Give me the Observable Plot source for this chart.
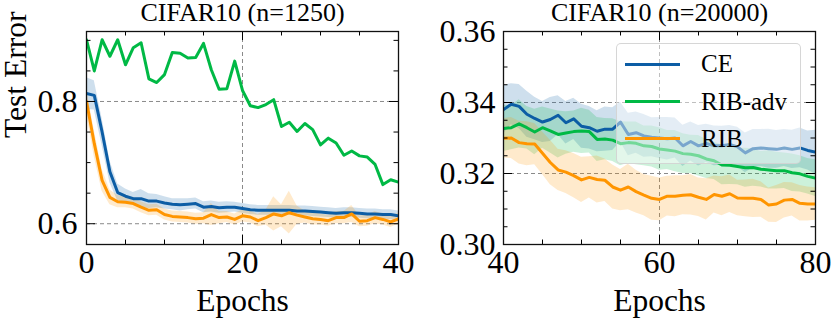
<!DOCTYPE html>
<html><head><meta charset="utf-8">
<script src="https://cdn.jsdelivr.net/npm/d3@7"></script>
<script src="https://cdn.jsdelivr.net/npm/@observablehq/plot@0.6"></script>
<style>
html,body{margin:0;padding:0;background:#fff;}
#wrap{position:relative;width:831px;height:318px;overflow:hidden;font-family:"Liberation Serif","Times New Roman",serif;}
#wrap svg{position:absolute;top:0;overflow:visible;font-family:"Liberation Serif","Times New Roman",serif !important;}
#wrap svg text{font-family:"Liberation Serif","Times New Roman",serif !important;}
.legend{position:absolute;box-sizing:border-box;background:rgba(255,255,255,0.45);border:1.5px solid rgba(210,210,210,0.9);border-radius:5px;}
.legend .sw{position:absolute;left:8px;width:55px;height:3px;}
.legend .lb{position:absolute;left:84px;font-size:25px;line-height:25px;color:#000;white-space:nowrap;}
</style></head><body><div id="wrap"></div>
<script>
// ---- data ----
const epochsLeft = [0,1,2,3,4,5,6,7,8,9,10,11,12,13,14,15,16,17,18,19,20,21,22,23,24,25,26,27,28,29,30,31,32,33,34,35,36,37,38,39,40];
const epochsRight = [40,41,42,43,44,45,46,47,48,49,50,51,52,53,54,55,56,57,58,59,60,61,62,63,64,65,66,67,68,69,70,71,72,73,74,75,76,77,78,79,80];

const leftCE = [0.813,0.810,0.750,0.685,0.651,0.645,0.641,0.641,0.637,0.637,0.634,0.632,0.631,0.632,0.633,0.627,0.628,0.626,0.627,0.627,0.625,0.623,0.622,0.622,0.622,0.622,0.622,0.621,0.621,0.620,0.619,0.618,0.617,0.618,0.618,0.617,0.616,0.616,0.615,0.615,0.613];
const leftCEstd = [0.026,0.024,0.022,0.018,0.014,0.012,0.010,0.015,0.012,0.011,0.010,0.009,0.010,0.009,0.009,0.009,0.009,0.009,0.009,0.008,0.008,0.008,0.008,0.008,0.008,0.008,0.008,0.008,0.008,0.008,0.008,0.008,0.008,0.008,0.008,0.008,0.008,0.008,0.008,0.008,0.008];
const leftRIB = [0.800,0.731,0.671,0.643,0.636,0.635,0.633,0.627,0.622,0.623,0.615,0.612,0.611,0.610,0.608,0.609,0.615,0.610,0.611,0.607,0.613,0.611,0.605,0.610,0.616,0.613,0.618,0.614,0.611,0.608,0.607,0.605,0.610,0.610,0.616,0.604,0.605,0.610,0.607,0.603,0.608];
const leftRIBstd = [0.020,0.022,0.018,0.012,0.010,0.009,0.009,0.009,0.009,0.009,0.009,0.009,0.009,0.009,0.009,0.009,0.018,0.010,0.009,0.009,0.010,0.010,0.010,0.012,0.028,0.018,0.035,0.015,0.010,0.010,0.009,0.009,0.010,0.010,0.014,0.009,0.009,0.010,0.009,0.009,0.009];
const leftADV = [0.901,0.850,0.901,0.874,0.901,0.860,0.888,0.896,0.837,0.831,0.844,0.880,0.879,0.871,0.872,0.895,0.852,0.820,0.821,0.866,0.818,0.793,0.790,0.795,0.803,0.759,0.766,0.751,0.764,0.754,0.729,0.740,0.732,0.712,0.719,0.711,0.709,0.697,0.664,0.672,0.668];

const rightCE = [0.3380,0.3395,0.3389,0.3367,0.3355,0.3345,0.3352,0.3364,0.3343,0.3354,0.3333,0.3329,0.3319,0.3325,0.3325,0.3345,0.3310,0.3315,0.3306,0.3302,0.3300,0.3298,0.3300,0.3278,0.3290,0.3278,0.3285,0.3278,0.3278,0.3282,0.3275,0.3258,0.3270,0.3272,0.3270,0.3268,0.3272,0.3268,0.3272,0.3265,0.3260];
const rightCEstd = [0.0068,0.0058,0.0062,0.0065,0.0060,0.0058,0.0062,0.0055,0.0060,0.0058,0.0062,0.0060,0.0058,0.0062,0.0060,0.0056,0.0060,0.0058,0.0060,0.0055,0.0058,0.0060,0.0056,0.0058,0.0055,0.0057,0.0054,0.0056,0.0055,0.0053,0.0055,0.0056,0.0054,0.0052,0.0055,0.0053,0.0052,0.0054,0.0056,0.0055,0.0062];
const rightADV = [0.3327,0.3329,0.3340,0.3329,0.3317,0.3329,0.3320,0.3310,0.3314,0.3318,0.3320,0.3318,0.3296,0.3297,0.3294,0.3284,0.3287,0.3285,0.3278,0.3276,0.3269,0.3266,0.3263,0.3256,0.3254,0.3250,0.3241,0.3236,0.3224,0.3223,0.3220,0.3216,0.3217,0.3212,0.3210,0.3208,0.3208,0.3202,0.3199,0.3192,0.3187];
const rightADVstd = [0.0065,0.0062,0.0068,0.0060,0.0064,0.0058,0.0062,0.0066,0.0060,0.0058,0.0064,0.0060,0.0062,0.0058,0.0060,0.0062,0.0058,0.0060,0.0056,0.0058,0.0060,0.0055,0.0058,0.0056,0.0054,0.0057,0.0055,0.0053,0.0056,0.0054,0.0052,0.0055,0.0053,0.0050,0.0054,0.0052,0.0050,0.0053,0.0051,0.0050,0.0052];
const rightRIB = [0.3299,0.3300,0.3287,0.3284,0.3283,0.3257,0.3231,0.3210,0.3204,0.3194,0.3182,0.3189,0.3183,0.3181,0.3162,0.3153,0.3162,0.3149,0.3139,0.3130,0.3127,0.3136,0.3136,0.3139,0.3140,0.3133,0.3127,0.3141,0.3136,0.3143,0.3131,0.3130,0.3130,0.3127,0.3111,0.3114,0.3125,0.3127,0.3116,0.3114,0.3114];
const rightRIBstd = [0.0055,0.0058,0.0060,0.0062,0.0058,0.0060,0.0063,0.0058,0.0060,0.0062,0.0064,0.0058,0.0066,0.0060,0.0062,0.0058,0.0064,0.0060,0.0058,0.0062,0.0060,0.0056,0.0058,0.0055,0.0057,0.0054,0.0058,0.0052,0.0055,0.0053,0.0050,0.0052,0.0054,0.0050,0.0048,0.0052,0.0050,0.0047,0.0050,0.0048,0.0046];

const methods = ["CE","RIB-adv","RIB"];
const colors = {"CE":"#0C5DA5","RIB-adv":"#00B945","RIB":"#FF9500"};

const leftXMajor=[0,20,40], leftXMinor=[5,10,15,25,30,35];
const leftYMajor=[0.6,0.8], leftYMinor=[0.65,0.7,0.75,0.85,0.9];
const rightXMajor=[40,60,80], rightXMinor=[45,50,55,65,70,75];
const rightYMajor=[0.30,0.32,0.34,0.36], rightYMinor=[0.305,0.31,0.315,0.325,0.33,0.335,0.345,0.35,0.355];

const FONT="'Liberation Serif','Times New Roman',serif";

function rows(epochs, vals, stds){
  return epochs.map((e,i)=>({epoch:e, v:vals[i], lo: stds? vals[i]-stds[i]:null, hi: stds? vals[i]+stds[i]:null}));
}

const H=318, MT=31, MB=74;
function panel(o){
  const innerW=o.width-o.marginLeft-o.marginRight, innerH=H-MT-MB;
  const marks=[
    Plot.gridX(o.xMajor.slice(1,-1),{stroke:"#8a8a8a",strokeOpacity:1,strokeWidth:1,strokeDasharray:"4,3"}),
    Plot.gridY(o.yMajor,{stroke:"#8a8a8a",strokeOpacity:1,strokeWidth:1,strokeDasharray:"4,3"})
  ];
  for(const s of o.series){
    const d=rows(o.epochs,s.vals,s.stds);
    if(s.stds) marks.push(Plot.areaY(d,{x:"epoch",y1:"lo",y2:"hi",fill:colors[s.name],fillOpacity:0.2,clip:true}));
  }
  for(const s of o.series){
    const d=rows(o.epochs,s.vals,s.stds);
    marks.push(Plot.lineY(d,{x:"epoch",y:"v",stroke:colors[s.name],strokeWidth:3,clip:true}));
  }
  const maj=9, mn=4.5;
  marks.push(
    Plot.tickX(o.xMajor,{x:d=>d,insetTop:innerH-maj,stroke:"black",strokeWidth:1}),
    Plot.tickX(o.xMajor,{x:d=>d,insetBottom:innerH-maj,stroke:"black",strokeWidth:1}),
    Plot.tickX(o.xMinor,{x:d=>d,insetTop:innerH-mn,stroke:"black",strokeWidth:1}),
    Plot.tickX(o.xMinor,{x:d=>d,insetBottom:innerH-mn,stroke:"black",strokeWidth:1}),
    Plot.tickY(o.yMajor,{y:d=>d,insetRight:innerW-maj,stroke:"black",strokeWidth:1}),
    Plot.tickY(o.yMajor,{y:d=>d,insetLeft:innerW-maj,stroke:"black",strokeWidth:1}),
    Plot.tickY(o.yMinor,{y:d=>d,insetRight:innerW-mn,stroke:"black",strokeWidth:1}),
    Plot.tickY(o.yMinor,{y:d=>d,insetLeft:innerW-mn,stroke:"black",strokeWidth:1}),
    Plot.frame({stroke:"#111",strokeWidth:1.3}),
    Plot.axisX({ticks:o.xMajor,tickSize:0,tickPadding:6,tickFormat:d=>String(d),label:null,fontSize:32,fontFamily:FONT,fontVariant:"normal"}),
    Plot.axisY({ticks:o.yMajor,tickSize:0,tickPadding:o.yPad,tickFormat:o.yFormat,label:null,fontSize:32,fontFamily:FONT,fontVariant:"normal"}),
    Plot.text([o.title],{frameAnchor:"top",dy:-18.5,fontSize:26,fontFamily:FONT,lineAnchor:"middle",text:d=>d}),
    Plot.text(["Epochs"],{frameAnchor:"bottom",dy:56,fontSize:31.5,fontFamily:FONT,lineAnchor:"middle",text:d=>d})
  );
  if(o.ylabel) marks.push(Plot.text([o.ylabel],{frameAnchor:"left",dx:-70.5,rotate:-90,fontSize:31.5,fontFamily:FONT,lineAnchor:"middle",text:d=>d}));
  const svg=Plot.plot({
    width:o.width,height:H,marginTop:MT,marginBottom:MB,marginLeft:o.marginLeft,marginRight:o.marginRight,
    style:{fontFamily:FONT,background:"transparent",overflow:"visible",color:"black"},
    x:{domain:o.xDomain},
    y:{domain:o.yDomain},
    marks
  });
  svg.style.left=o.left+"px";
  return svg;
}

const wrap=document.getElementById("wrap");
wrap.appendChild(panel({
  left:0,width:420,marginLeft:86,marginRight:22,
  xDomain:[0,40],yDomain:[0.566,0.9145],
  xMajor:leftXMajor,xMinor:leftXMinor,yMajor:leftYMajor,yMinor:leftYMinor,
  yFormat:d3.format(".1f"),yPad:9,epochs:epochsLeft,
  title:"CIFAR10 (n=1250)",ylabel:"Test Error",
  series:[{name:"CE",vals:leftCE,stds:leftCEstd},{name:"RIB-adv",vals:leftADV,stds:null},{name:"RIB",vals:leftRIB,stds:leftRIBstd}]
}));
wrap.appendChild(panel({
  left:420,width:411,marginLeft:83,marginRight:16,
  xDomain:[40,80],yDomain:[0.30,0.36],
  xMajor:rightXMajor,xMinor:rightXMinor,yMajor:rightYMajor,yMinor:rightYMinor,
  yFormat:d3.format(".2f"),yPad:8,epochs:epochsRight,
  title:"CIFAR10 (n=20000)",ylabel:null,
  series:[{name:"CE",vals:rightCE,stds:rightCEstd},{name:"RIB-adv",vals:rightADV,stds:rightADVstd},{name:"RIB",vals:rightRIB,stds:rightRIBstd}]
}));

// legend
const lg=document.createElement("div");
lg.className="legend";
Object.assign(lg.style,{left:"616px",top:"43px",width:"185px",height:"121px"});
const ys=[20,57.7,94.7];
methods.forEach((m,i)=>{
  const sw=document.createElement("div");sw.className="sw";
  sw.style.top=(ys[i]-1.5)+"px";sw.style.background=colors[m];
  const lb=document.createElement("div");lb.className="lb";
  lb.style.top=(ys[i]-13)+"px";lb.textContent=m;
  lg.appendChild(sw);lg.appendChild(lb);
});
wrap.appendChild(lg);
</script></body></html>
